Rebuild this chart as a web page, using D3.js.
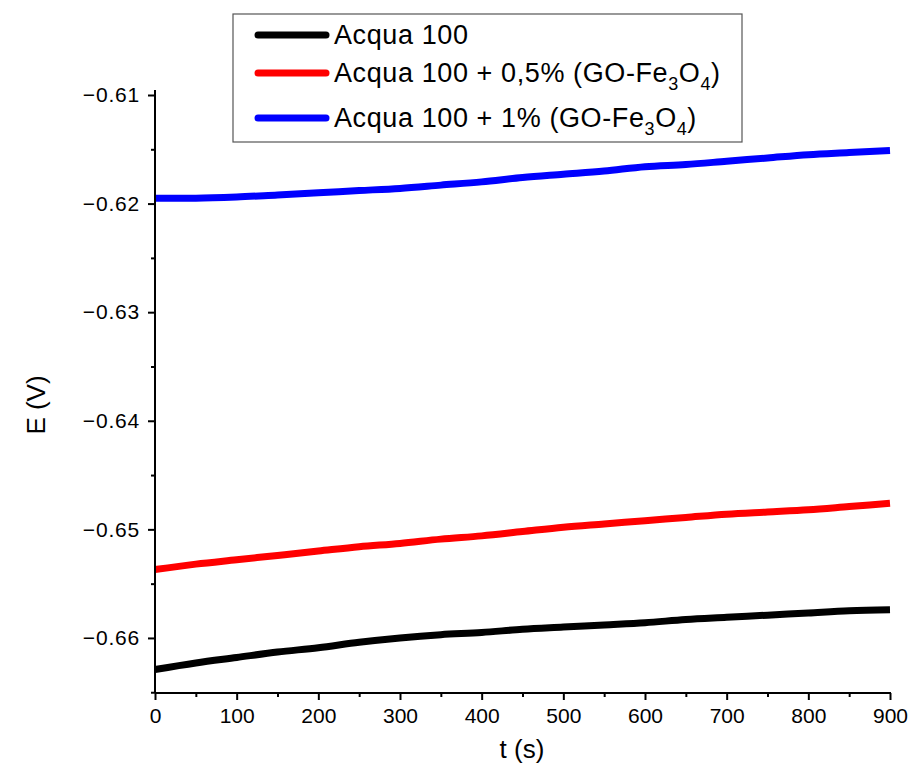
<!DOCTYPE html>
<html><head><meta charset="utf-8">
<script src="https://cdn.jsdelivr.net/npm/d3@7"></script>
<style>body{margin:0;background:#fff;}svg{display:block;}</style>
</head><body>
<script>
const times = [0,50,100,150,200,250,300,350,400,450,500,550,600,650,700,750,800,850,900];
const acqua = [-0.6629,-0.6623,-0.6618,-0.6613,-0.6609,-0.6604,-0.6600,-0.6597,-0.6595,-0.6592,-0.6590,-0.6588,-0.6586,-0.6583,-0.6581,-0.6579,-0.6577,-0.6575,-0.6574];
const acqua05 = [-0.6537,-0.6532,-0.6528,-0.6524,-0.6520,-0.6516,-0.6513,-0.6509,-0.6506,-0.6502,-0.6498,-0.6495,-0.6492,-0.6489,-0.6486,-0.6484,-0.6482,-0.6479,-0.6476];
const acqua1 = [-0.6195,-0.6195,-0.6194,-0.6192,-0.6190,-0.6188,-0.6186,-0.6183,-0.6180,-0.6176,-0.6173,-0.6170,-0.6166,-0.6164,-0.6161,-0.6158,-0.6155,-0.6153,-0.6151];
const seriesNames = ["Acqua 100","Acqua 100 + 0,5% (GO-Fe3O4)","Acqua 100 + 1% (GO-Fe3O4)"];
const seriesColors = ["#000000","#ff0000","#0000ff"];
const xTicks = [0,100,200,300,400,500,600,700,800,900];
const yTicks = [-0.66,-0.65,-0.64,-0.63,-0.62,-0.61];

const W=911,H=771;
const svg=d3.select("body").append("svg").attr("width",W).attr("height",H);
const x=d3.scaleLinear().domain([0,900]).range([155,890]);
const y=d3.scaleLinear().domain([-0.66507,-0.61]).range([693,95]);
const font="'Liberation Sans', Arial, sans-serif";

const series=[acqua,acqua05,acqua1];
const line=d3.line().x((d,i)=>x(times[i])).y(d=>y(d)).curve(d3.curveMonotoneX);
series.forEach((s,k)=>{
  svg.append("path").attr("d",line(s)).attr("fill","none")
    .attr("stroke",seriesColors[k]).attr("stroke-width",7).attr("stroke-linecap","butt");
});

// axes
const xAxis=d3.axisBottom(x).tickValues(xTicks).tickSize(7).tickSizeOuter(0).tickPadding(8).tickFormat(d3.format("d"));
const gx=svg.append("g").attr("transform","translate(0,693)").call(xAxis);
const xMinor=d3.axisBottom(x).tickValues(d3.range(50,900,100)).tickSize(4).tickFormat("");
const gxm=svg.append("g").attr("transform","translate(0,693)").call(xMinor);
gxm.select(".domain").remove();

const fmtY=d=>"\u2212"+d3.format(".2f")(-d);
const yAxis=d3.axisLeft(y).tickValues(yTicks).tickSize(7).tickSizeOuter(0).tickPadding(8).tickFormat(fmtY);
const gy=svg.append("g").attr("transform","translate(155,0)").call(yAxis);
const yMinor=d3.axisLeft(y).tickValues([-0.665,-0.655,-0.645,-0.635,-0.625,-0.615]).tickSize(4).tickFormat("");
const gym=svg.append("g").attr("transform","translate(155,0)").call(yMinor);
gym.select(".domain").remove();

[gx,gxm,gy,gym].forEach(g=>{
  g.selectAll("path,line").attr("stroke","#000").attr("stroke-width",2);
  g.selectAll("text").attr("font-family",font).attr("font-size",21).attr("fill","#000");
});
gy.selectAll("text").attr("letter-spacing",0.8);
gy.select(".domain").attr("d","M0,90V693");
gx.select(".domain").attr("d","M155,0H891");

svg.append("text").attr("x",522).attr("y",758).attr("text-anchor","middle")
  .attr("font-family",font).attr("font-size",26).text("t (s)");
svg.append("text").attr("transform","translate(45,405) rotate(-90)").attr("text-anchor","middle")
  .attr("font-family",font).attr("font-size",26).text("E (V)");

// legend
const lg=svg.append("g");
lg.append("rect").attr("x",233).attr("y",14).attr("width",509).attr("height",128)
  .attr("fill","#fff").attr("stroke","#555").attr("stroke-width",1.2);
const rows=[35,73,118];
seriesNames.forEach((n,k)=>{
  lg.append("line").attr("x1",258).attr("x2",326).attr("y1",rows[k]).attr("y2",rows[k])
    .attr("stroke",seriesColors[k]).attr("stroke-width",7).attr("stroke-linecap","round");
  const t=lg.append("text").attr("x",334).attr("y",rows[k]+9).attr("font-family",font)
    .attr("font-size",27).attr("letter-spacing",0.6).attr("fill","#000");
  const m=n.match(/^(.*GO-Fe)3O4\)$/);
  if(m){
    t.append("tspan").text(m[1]);
    t.append("tspan").attr("font-size",18).attr("dy",8).text("3");
    t.append("tspan").attr("dy",-8).text("O");
    t.append("tspan").attr("font-size",18).attr("dy",8).text("4");
    t.append("tspan").attr("dy",-8).text(")");
  } else t.text(n);
});
</script>
</body></html>
